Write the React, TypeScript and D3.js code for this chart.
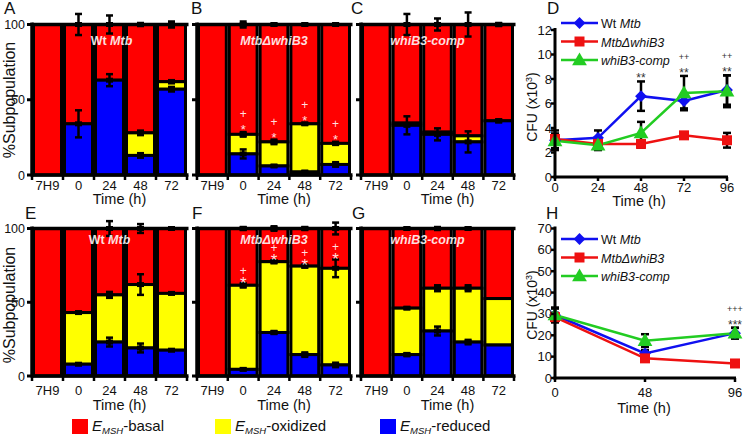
import React from 'react';
import * as d3 from 'd3';

// ---------- DATA ----------
const barTimes = ['7H9', '0', '24', '48', '72'];

// Panel A (Wt Mtb, top row)
const A_reduced = [0, 34, 63, 13, 57];
const A_oxidized = [0, 0, 0, 15, 5];
const A_errTop = [0, 7, 6, 1, 2];
const A_errOx = [0, 0, 0, 1.5, 1];
const A_errRed = [0, 9, 4, 1.5, 1.5];

// Panel B (MtbΔwhiB3, top row)
const B_reduced = [0, 14, 6, 2, 7];
const B_oxidized = [0, 13, 16, 32, 14];
const B_errTop = [0, 2, 0.5, 0.5, 0.5];
const B_errOx = [0, 1.5, 1.5, 0.5, 1];
const B_errRed = [0, 3, 0.5, 0.5, 1.5];
const B_marks = [false, true, true, true, true];

// Panel C (whiB3-comp, top row)
const C_reduced = [0, 33, 27, 22, 36];
const C_oxidized = [0, 1.5, 1.5, 4, 0];
const C_errTop = [0, 7, 4, 8, 1];
const C_errOx = [0, 0, 0, 0, 0];
const C_errRed = [0, 6, 4, 7, 1];

// Panel E (Wt Mtb, bottom row)
const E_reduced = [0, 8, 23, 19, 17.5];
const E_oxidized = [0, 35, 32, 43, 38.5];
const E_errTop = [0, 0, 5, 3, 0.5];
const E_errOx = [0, 0.5, 2, 7, 0.5];
const E_errRed = [0, 0.5, 3, 3, 0.5];

// Panel F (MtbΔwhiB3, bottom row)
const F_reduced = [0, 4.5, 29.5, 14.5, 7.5];
const F_oxidized = [0, 57, 48, 60, 65.5];
const F_errTop = [0, 1, 1.5, 1, 4];
const F_errOx = [0, 1.5, 1, 1, 6];
const F_errRed = [0, 0.5, 1, 1.5, 1.5];
const F_marks = [false, true, true, true, true];

// Panel G (whiB3-comp, bottom row)
const G_reduced = [0, 14.5, 30.5, 23, 21];
const G_oxidized = [0, 31.5, 29, 36.5, 31.5];
const G_errTop = [0, 0.5, 1, 0.5, 0];
const G_errOx = [0, 0.5, 2, 2, 0];
const G_errRed = [0, 1, 3, 1.5, 0];

// Panel D (CFU x10^3)
const D_time = [0, 24, 48, 72, 96];
const D_wt = [3.0, 3.2, 6.6, 6.2, 7.1];
const D_wtErr = [0.8, 0.6, 1.2, 0.6, 1.2];
const D_mut = [3.1, 2.7, 2.7, 3.4, 3.0];
const D_mutErr = [0.4, 0.3, 0.3, 0.2, 0.6];
const D_comp = [2.95, 2.6, 3.6, 6.85, 7.0];
const D_compErr = [0.6, 0.4, 0.9, 1.4, 1.3];
const D_yTicks = [0, 2, 4, 6, 8, 10, 12];
const D_annot = [
  { t: 48, lines: ['**'] },
  { t: 72, lines: ['++', '**'] },
  { t: 96, lines: ['++', '**'] },
];

// Panel H (CFU x10^3)
const H_time = [0, 48, 96];
const H_wt = [29.5, 11.5, 21];
const H_wtErr = [3, 1.5, 2.5];
const H_mut = [28.5, 9.2, 6.8];
const H_mutErr = [2, 1.5, 1];
const H_comp = [29.5, 17.5, 21];
const H_compErr = [3.5, 3, 2.5];
const H_yTicks = [0, 10, 20, 30, 40, 50, 60, 70];
const H_annot = [{ t: 96, lines: ['+++', '***'] }];

// ---------- STYLE ----------
const FONT = "'Liberation Sans', Arial, sans-serif";
const C_BASAL = '#ff0000';
const C_OX = '#ffff00';
const C_RED = '#0000ff';
const L_BLUE = '#1010f0';
const L_RED = '#ee1111';
const L_GREEN = '#22cc22';

type BarProps = {
  x0: number; x1: number; yt: number; yb: number;
  reduced: number[]; oxidized: number[];
  errTop: number[]; errOx: number[]; errRed: number[];
  title: React.ReactNode; titleDx?: number; titleY: number;
  showY: boolean; tickY: number; timeY: number;
  marks?: boolean[]; bigMarks?: boolean;
};

function ErrBar({ x, y, yLo, yHi, cap = 7, w = 2.5 }: any) {
  return (
    <g stroke="#000" strokeWidth={w}>
      <line x1={x} x2={x} y1={yLo} y2={yHi} />
      <line x1={x - cap / 2} x2={x + cap / 2} y1={yLo} y2={yLo} />
      <line x1={x - cap / 2} x2={x + cap / 2} y1={yHi} y2={yHi} />
      {y !== undefined && <rect x={x - 3.5} y={y - 2.5} width={7} height={5} fill="#000" stroke="none" />}
    </g>
  );
}

function BarPanel(p: BarProps) {
  const x = d3.scaleBand<string>().domain(barTimes).range([p.x0, p.x1]).padding(0);
  const y = d3.scaleLinear().domain([0, 100]).range([p.yb, p.yt]);
  const bw = x.bandwidth();
  const cx = (t: string) => (x(t) as number) + bw / 2;
  const errs: React.ReactNode[] = [];
  barTimes.forEach((t, i) => {
    const r = p.reduced[i], o = p.oxidized[i];
    const items: [number, number][] = [[100, p.errTop[i]], [r + o, p.errOx[i]], [r, p.errRed[i]]];
    items.forEach(([v, e], k) => {
      if (e > 0) {
        errs.push(<ErrBar key={`${i}-${k}`} x={cx(t)} y={y(v)} yLo={y(v - e)} yHi={y(v + e)} />);
      }
    });
  });
  const pc = (p.x0 + p.x1) / 2;
  return (
    <g fontFamily={FONT}>
      {barTimes.map((t, i) => {
        const r = p.reduced[i], o = p.oxidized[i];
        const segs: [number, number, string][] = [[r + o, 100, C_BASAL], [r, r + o, C_OX], [0, r, C_RED]];
        return (
          <g key={t}>
            {segs.filter(s => s[1] - s[0] > 0).map((s, k) => (
              <rect key={k} x={(x(t) as number) + 1.5} width={bw - 3} y={y(s[1])} height={y(s[0]) - y(s[1])}
                fill={s[2]} stroke="#000" strokeWidth={3} />
            ))}
          </g>
        );
      })}
      {/* axes */}
      <line x1={p.x0} x2={p.x0} y1={p.yb + 1.5} y2={p.yt - 2} stroke="#000" strokeWidth={3.5} />
      <line x1={p.x0} x2={p.x1 + 1.5} y1={p.yb} y2={p.yb} stroke="#000" strokeWidth={3.5} />
      <line x1={p.x0} x2={p.x1 + 1.5} y1={p.yt} y2={p.yt} stroke="#000" strokeWidth={3.5} />
      {[0, 50, 100].map(v => (
        <line key={v} x1={p.x0 - 5} x2={p.x0} y1={y(v)} y2={y(v)} stroke="#000" strokeWidth={3} />
      ))}
      {p.showY && [0, 50, 100].map(v => (
        <text key={v} x={p.x0 - 7} y={y(v) + 4.5} fontSize={12.5} textAnchor="end" fill="#111">{v}</text>
      ))}
      {[p.x0, ...barTimes.map(t => (x(t) as number) + bw)].map((xx, k) => (
        <line key={k} x1={xx} x2={xx} y1={p.yb} y2={p.yb + 5} stroke="#000" strokeWidth={2.5} />
      ))}
      {barTimes.map(t => (
        <text key={t} x={cx(t)} y={p.tickY} fontSize={13} textAnchor="middle" fill="#111">{t}</text>
      ))}
      <text x={pc + 10} y={p.timeY} fontSize={14.5} textAnchor="middle" fill="#111">Time (h)</text>
      {errs}
      <text x={pc + (p.titleDx || 0)} y={p.titleY} fontSize={12.5} fontWeight="bold" textAnchor="middle"
        fill="#fff" fillOpacity={0.88}>{p.title}</text>
      {p.marks && barTimes.map((t, i) => {
        if (!p.marks![i]) return null;
        const top = y(p.reduced[i] + p.oxidized[i] + p.errOx[i]);
        const big = p.bigMarks;
        return (
          <g key={t} fill="#fff" fillOpacity={0.88} textAnchor="middle">
            <text x={cx(t)} y={top - (big ? 8 : 14)} fontSize={big ? 12 : 12}>+</text>
            <text x={cx(t)} y={top + (big ? 6 : 2)} fontSize={big ? 17 : 13}>*</text>
          </g>
        );
      })}
    </g>
  );
}

type Series = { vals: number[]; errs: number[]; color: string; kind: 'diamond' | 'square' | 'triangle' };

function Marker({ kind, x, y, color }: any) {
  let d: string;
  let tr = `translate(${x},${y})`;
  if (kind === 'diamond') { d = d3.symbol(d3.symbolSquare, 70)() as string; tr += ' rotate(45)'; }
  else if (kind === 'square') { d = d3.symbol(d3.symbolSquare, 100)() as string; }
  else { d = d3.symbol(d3.symbolTriangle, 95)() as string; tr += ' translate(0,1)'; }
  return <path d={d} transform={tr} fill={color} />;
}

type LineProps = {
  x0: number; x1: number; yt: number; yb: number;
  times: number[]; yTicks: number[]; series: Series[];
  annot: { t: number; lines: string[] }[];
  legendY: number; tickY: number; timeY: number; cfuY: number; timeX: number;
};

function LinePanel(p: LineProps) {
  const x = d3.scaleLinear().domain([0, 96]).range([p.x0, p.x1]);
  const yMax = p.yTicks[p.yTicks.length - 1];
  const y = d3.scaleLinear().domain([0, yMax]).range([p.yb, p.yt]);
  const line = d3.line<number>().x((_, i) => x(p.times[i])).y(v => y(v));
  const names: React.ReactNode[] = [
    <>Wt <tspan fontStyle="italic">Mtb</tspan></>,
    <tspan fontStyle="italic">MtbΔwhiB3</tspan>,
    <tspan fontStyle="italic">whiB3-comp</tspan>,
  ];
  return (
    <g fontFamily={FONT}>
      {p.series.map((s, k) => (
        <path key={k} d={line(s.vals) as string} fill="none" stroke={s.color} strokeWidth={2.5} />
      ))}
      {p.series.map((s, k) => (
        <g key={k}>
          {s.vals.map((v, i) => (
            <ErrBar key={i} x={x(p.times[i])} yLo={y(v - s.errs[i])} yHi={y(v + s.errs[i])} cap={8} w={2.5} />
          ))}
        </g>
      ))}
      {p.series.map((s, k) => (
        <g key={k}>
          {s.vals.map((v, i) => <Marker key={i} kind={s.kind} x={x(p.times[i])} y={y(v)} color={s.color} />)}
        </g>
      ))}
      {/* axes */}
      <line x1={p.x0} x2={p.x0} y1={p.yb + 1.5} y2={p.yt - 2} stroke="#000" strokeWidth={3} />
      <line x1={p.x0 - 1.5} x2={p.x1 + 1} y1={p.yb} y2={p.yb} stroke="#000" strokeWidth={3} />
      {p.yTicks.map(v => (
        <g key={v}>
          <line x1={p.x0 - 4} x2={p.x0} y1={y(v)} y2={y(v)} stroke="#000" strokeWidth={2.5} />
          <text x={p.x0 - 3} y={y(v) + 4.5} fontSize={13} textAnchor="end" fill="#111">{v}</text>
        </g>
      ))}
      {p.times.map(t => (
        <g key={t}>
          <line x1={x(t)} x2={x(t)} y1={p.yb} y2={p.yb + 4} stroke="#000" strokeWidth={2.5} />
          <text x={x(t)} y={p.tickY} fontSize={13} textAnchor="middle" fill="#111">{t}</text>
        </g>
      ))}
      <text x={p.timeX} y={p.timeY} fontSize={14.5} textAnchor="middle" fill="#111">Time (h)</text>
      <text transform={`translate(537,${p.cfuY}) rotate(-90)`} fontSize={14} textAnchor="middle" fill="#111">
        CFU (x10<tspan dy={-5} fontSize={9}>3</tspan><tspan dy={5}>)</tspan>
      </text>
      {/* annotations */}
      {p.annot.map(a => {
        const i = p.times.indexOf(a.t);
        const top = Math.min(...p.series.map(s => y(s.vals[i] + s.errs[i])));
        return (
          <g key={a.t} fill="#333" textAnchor="middle">
            {a.lines.length === 2 && <text x={x(a.t)} y={top - 16} fontSize={9}>{a.lines[0]}</text>}
            <text x={x(a.t)} y={top + 1} fontSize={12}>{a.lines[a.lines.length - 1]}</text>
          </g>
        );
      })}
      {/* legend */}
      {p.series.map((s, k) => {
        const ly = p.legendY + k * 18.5;
        return (
          <g key={k}>
            <line x1={561} x2={598} y1={ly} y2={ly} stroke={s.color} strokeWidth={2.5} />
            <Marker kind={s.kind} x={579.5} y={ly} color={s.color} />
            <text x={601} y={ly + 5} fontSize={12.5} fill="#111">{names[k]}</text>
          </g>
        );
      })}
    </g>
  );
}

function LegendItem({ x, color, label }: any) {
  return (
    <g fontFamily={FONT}>
      <rect x={x} y={419} width={16} height={15} fill={color} />
      <text x={x + 20} y={431} fontSize={15} fill="#111">
        <tspan fontStyle="italic">E</tspan>
        <tspan fontStyle="italic" fontSize={9.5} dy={3}>MSH</tspan>
        <tspan dy={-3}>-{label}</tspan>
      </text>
    </g>
  );
}

export default function App() {
  const wt = <>Wt <tspan fontStyle="italic">Mtb</tspan></>;
  const mut = <tspan fontStyle="italic">MtbΔwhiB3</tspan>;
  const comp = <tspan fontStyle="italic">whiB3-comp</tspan>;
  const dSeries: Series[] = [
    { vals: D_wt, errs: D_wtErr, color: L_BLUE, kind: 'diamond' },
    { vals: D_mut, errs: D_mutErr, color: L_RED, kind: 'square' },
    { vals: D_comp, errs: D_compErr, color: L_GREEN, kind: 'triangle' },
  ];
  const hSeries: Series[] = [
    { vals: H_wt, errs: H_wtErr, color: L_BLUE, kind: 'diamond' },
    { vals: H_mut, errs: H_mutErr, color: L_RED, kind: 'square' },
    { vals: H_comp, errs: H_compErr, color: L_GREEN, kind: 'triangle' },
  ];
  const top = { yt: 24.5, yb: 175, titleY: 45, tickY: 190, timeY: 204 };
  const bot = { yt: 228.5, yb: 376, titleY: 244, tickY: 395, timeY: 410 };
  return (
    <svg width={745} height={436} style={{ position: 'absolute', left: 0, top: 0, background: '#fff' }}>
      <rect width={745} height={436} fill="#fff" />
      <BarPanel x0={32} x1={187} {...top} reduced={A_reduced} oxidized={A_oxidized}
        errTop={A_errTop} errOx={A_errOx} errRed={A_errRed} title={wt} titleDx={2} showY={true} />
      <BarPanel x0={197} x1={351} {...top} reduced={B_reduced} oxidized={B_oxidized}
        errTop={B_errTop} errOx={B_errOx} errRed={B_errRed} title={mut} showY={false} marks={B_marks} />
      <BarPanel x0={361} x1={514} {...top} reduced={C_reduced} oxidized={C_oxidized}
        errTop={C_errTop} errOx={C_errOx} errRed={C_errRed} title={comp} titleDx={-10} showY={false} />
      <BarPanel x0={32} x1={187} {...bot} reduced={E_reduced} oxidized={E_oxidized}
        errTop={E_errTop} errOx={E_errOx} errRed={E_errRed} title={wt} titleDx={0} showY={true} />
      <BarPanel x0={197} x1={351} {...bot} reduced={F_reduced} oxidized={F_oxidized}
        errTop={F_errTop} errOx={F_errOx} errRed={F_errRed} title={mut} showY={false} marks={F_marks} bigMarks={true} />
      <BarPanel x0={361} x1={514} {...bot} reduced={G_reduced} oxidized={G_oxidized}
        errTop={G_errTop} errOx={G_errOx} errRed={G_errRed} title={comp} titleDx={-10} showY={false} />

      <LinePanel x0={555} x1={727} yt={30} yb={177} times={D_time} yTicks={D_yTicks} series={dSeries}
        annot={D_annot} legendY={23} tickY={192} timeY={206} cfuY={107} timeX={639} />
      <LinePanel x0={555} x1={735} yt={228.5} yb={378} times={H_time} yTicks={H_yTicks} series={hSeries}
        annot={H_annot} legendY={239} tickY={397} timeY={413} cfuY={305} timeX={644} />

      {/* y-axis labels */}
      <text transform="translate(15,100) rotate(-90)" fontFamily={FONT} fontSize={16} textAnchor="middle" fill="#111">%Subpopulation</text>
      <text transform="translate(15,305) rotate(-90)" fontFamily={FONT} fontSize={16} textAnchor="middle" fill="#111">%Subpopulation</text>

      {/* panel letters */}
      <g fontFamily={FONT} fontSize={17} fill="#111">
        <text x={4} y={14}>A</text>
        <text x={191} y={14}>B</text>
        <text x={351} y={14}>C</text>
        <text x={547} y={14}>D</text>
        <text x={25} y={219}>E</text>
        <text x={192} y={219}>F</text>
        <text x={352} y={219}>G</text>
        <text x={546} y={219}>H</text>
      </g>

      <LegendItem x={72} color={C_BASAL} label="basal" />
      <LegendItem x={215} color={C_OX} label="oxidized" />
      <LegendItem x={380} color={C_RED} label="reduced" />
    </svg>
  );
}
